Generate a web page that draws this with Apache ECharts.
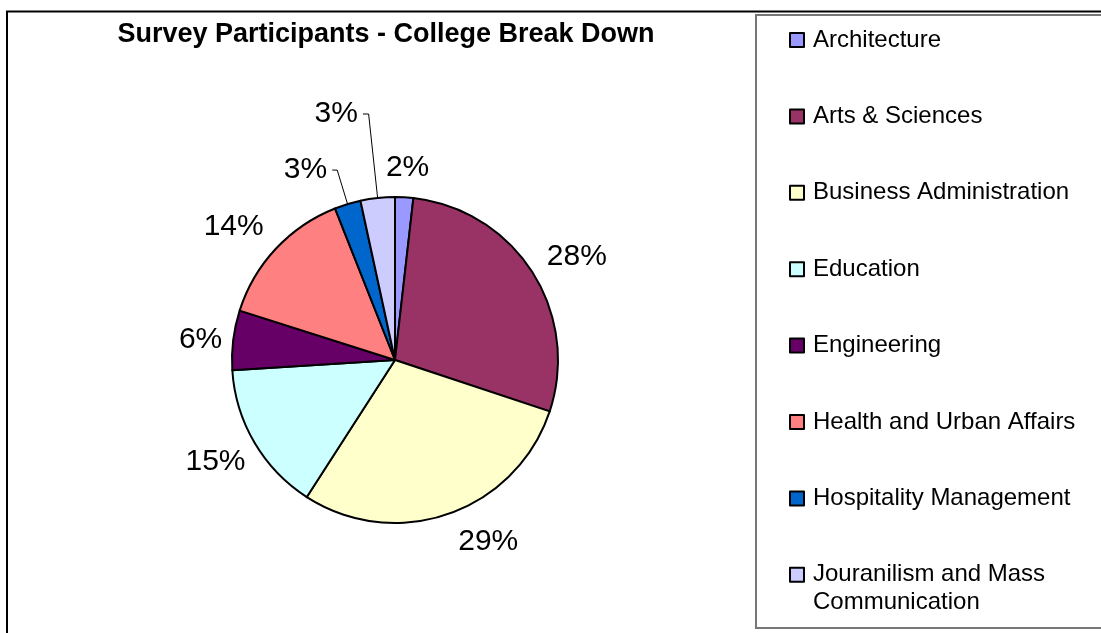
<!DOCTYPE html>
<html>
<head>
<meta charset="utf-8">
<script src="https://cdn.jsdelivr.net/npm/echarts@6/dist/echarts.min.js"></script>
<style>
  html, body { margin: 0; padding: 0; background: #fff; }
  #chart { width: 1101px; height: 633px; }
</style>
</head>
<body>
<div id="chart"></div>
<script>
// colleges and their share of survey participants (percent)
const colleges = [
  'Architecture',
  'Arts & Sciences',
  'Business Administration',
  'Education',
  'Engineering',
  'Health and Urban Affairs',
  'Hospitality Management',
  'Jouranilism and Mass Communication'
];
const shares = [1.8, 28.3, 29.0, 14.9, 5.9, 14.1, 2.6, 3.4];
const legendText = {
  'Jouranilism and Mass Communication': 'Jouranilism and Mass\nCommunication'
};

// slice colours (old excel palette)
const colors = ['#9999FF', '#993366', '#FFFFCC', '#CCFFFF', '#660066', '#FF8080', '#0066CC', '#CCCCFF'];

// label placement tuning
const lineLen = [30, 29, 30, 37, 6, 33, 35.5, 84.4];
const lineLen2 = [0, 0, 0, 0, 0, 0, 5, 5.7];
const showLine = [false, false, false, false, false, false, true, true];
const nudgeX = [-25, -15, -6, 28, 0, 17, 0, 0];

const FONT = '"Liberation Sans", Arial, sans-serif';

const chart = echarts.init(document.getElementById('chart'));

const pieData = colleges.map((name, i) => ({
  name: name,
  value: shares[i],
  itemStyle: { color: colors[i] },
  labelLine: { show: showLine[i], length: lineLen[i], length2: lineLen2[i] }
}));

const option = {
  animation: false,
  title: {
    text: 'Survey Participants - College Break Down',
    left: 386,
    top: 21,
    padding: 0,
    textAlign: 'center',
    textStyle: { fontFamily: FONT, fontSize: 27, fontWeight: 'bold', color: '#000' }
  },
  legend: {
    orient: 'vertical',
    left: 789,
    top: -2,
    padding: 0,
    itemGap: -7.6,
    itemWidth: 14,
    itemHeight: 14,
    icon: 'rect',
    selectedMode: false,
    data: colleges,
    formatter: function (name) {
      const t = legendText[name] || name;
      return t.indexOf('\n') >= 0 ? ' \n' + t : ' \n' + t + '\n ';
    },
    textStyle: {
      fontFamily: FONT,
      fontSize: 24,
      lineHeight: 28,
      color: '#000',
      padding: [0, 0, 0, 4],
      backgroundColor: 'rgba(0,0,0,0)'
    }
  },
  graphic: [
    {
      type: 'rect',
      shape: { x: 7, y: 11.5, width: 1300, height: 900 },
      style: { fill: 'none', stroke: '#000', lineWidth: 2 },
      silent: true
    },
    {
      type: 'rect',
      shape: { x: 756, y: 15, width: 400, height: 613 },
      style: { fill: 'none', stroke: '#777', lineWidth: 2 },
      silent: true
    }
  ],
  series: [
    {
      type: 'pie',
      center: [395, 360],
      radius: 163,
      startAngle: 90,
      clockwise: true,
      avoidLabelOverlap: false,
      percentPrecision: 0,
      itemStyle: { borderColor: '#000', borderWidth: 2 },
      label: {
        position: 'outside',
        formatter: '{d}%',
        fontFamily: FONT,
        fontSize: 30,
        color: '#000',
        distanceToLabelLine: 5
      },
      labelLine: { lineStyle: { color: '#000', width: 1 }, smooth: false },
      labelLayout: function (params) {
        return { dx: nudgeX[params.dataIndex] };
      },
      emphasis: { disabled: true },
      data: pieData
    }
  ]
};

chart.setOption(option);
</script>
</body>
</html>
